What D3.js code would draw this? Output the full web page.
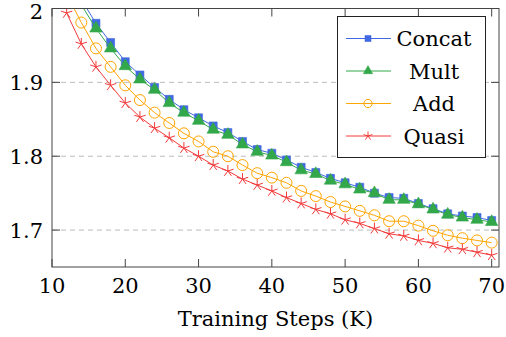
<!DOCTYPE html>
<html>
<head>
<meta charset="utf-8">
<script src="https://cdn.jsdelivr.net/npm/d3@7"></script>
<style>
  body { margin: 0; background: #fff; }
</style>
</head>
<body>
<svg id="chart" width="506" height="337"></svg>
<script>
// training steps (K)
const steps = [12, 14, 16, 18, 20, 22, 24, 26, 28, 30, 32, 34, 36, 38, 40, 42, 44, 46, 48, 50,
               52, 54, 56, 58, 60, 62, 64, 66, 68, 70];
const concat = [2.06, 2.012, 1.980, 1.954, 1.928, 1.910, 1.893, 1.877, 1.863, 1.852, 1.841, 1.832, 1.820, 1.809, 1.804,
                1.795, 1.785, 1.778, 1.770, 1.764, 1.758, 1.750, 1.744, 1.743, 1.736, 1.729, 1.722, 1.719, 1.717, 1.713];
const mult = [2.055, 2.005, 1.973, 1.946, 1.922, 1.904, 1.890, 1.872, 1.859, 1.848, 1.836, 1.829, 1.816, 1.806, 1.801,
              1.792, 1.781, 1.776, 1.767, 1.762, 1.755, 1.750, 1.741, 1.741, 1.735, 1.728, 1.721, 1.717, 1.714, 1.711];
const add = [2.02, 1.981, 1.946, 1.921, 1.896, 1.876, 1.859, 1.845, 1.831, 1.820, 1.806, 1.800, 1.788, 1.777, 1.771,
             1.764, 1.753, 1.746, 1.738, 1.732, 1.726, 1.720, 1.712, 1.712, 1.706, 1.699, 1.693, 1.689, 1.686, 1.683];
const quasi = [1.994, 1.952, 1.921, 1.896, 1.872, 1.853, 1.838, 1.825, 1.811, 1.800, 1.788, 1.780, 1.769, 1.761, 1.753,
               1.744, 1.736, 1.728, 1.722, 1.714, 1.709, 1.702, 1.695, 1.692, 1.686, 1.682, 1.676, 1.674, 1.670, 1.666];
const names = ['Concat', 'Mult', 'Add', 'Quasi'];
const xTicks = [10, 20, 30, 40, 50, 60, 70];
const yTicks = [1.7, 1.8, 1.9, 2];

const series = [
    {name: names[0], values: concat, color: '#4169e1', marker: 'square'},
    {name: names[1], values: mult, color: '#33a84a', marker: 'triangle'},
    {name: names[2], values: add, color: '#ffa500', marker: 'circle'},
    {name: names[3], values: quasi, color: '#f23a3a', marker: 'star'}
];

const FONT = '"DejaVu Serif", serif';

let svg = d3.select('#chart')
    .attr('font-family', FONT);
let margin = {left: 52, top: 8.5, right: 7, bottom: 70};
let W = 506, H = 337;

let x = d3.scaleLinear().domain([10, 71]).range([margin.left, W - margin.right]);
let y = d3.scaleLinear().domain([1.65, 2]).range([H - margin.bottom, margin.top]);

// 网格线
svg.append('g')
    .selectAll('line')
    .data(yTicks.filter(d => d < 2))
    .enter()
    .append('line')
    .attr('x1', x.range()[0]).attr('x2', x.range()[1])
    .attr('y1', d => y(d)).attr('y2', d => y(d))
    .attr('stroke', '#bbb')
    .attr('stroke-width', 1)
    .attr('stroke-dasharray', '5,4');

// clip
svg.append('clipPath').attr('id', 'clip')
    .append('rect')
    .attr('x', x.range()[0]).attr('y', y.range()[1])
    .attr('width', x.range()[1] - x.range()[0])
    .attr('height', y.range()[0] - y.range()[1]);

function markerPath(type, s) {
    if (type === 'square') return d3.symbol(d3.symbolSquare, s * s)();
    if (type === 'triangle') return d3.symbol(d3.symbolTriangle, s * s * 0.55)();
    if (type === 'circle') return d3.symbol(d3.symbolCircle, Math.PI * s * s / 4)();
    // star: 5 spokes
    let r = s / 2, p = '';
    for (let k = 0; k < 5; k++) {
        let a = -Math.PI / 2 + k * 2 * Math.PI / 5;
        p += 'M0,0L' + (r * Math.cos(a)).toFixed(2) + ',' + (r * Math.sin(a)).toFixed(2);
    }
    return p;
}

function styleMarker(sel, s) {
    sel.attr('fill', s.marker === 'circle' ? 'none' : (s.marker === 'star' ? 'none' : s.color))
        .attr('stroke', s.color)
        .attr('stroke-width', s.marker === 'circle' || s.marker === 'star' ? 1 : 0.6);
}

let line = d3.line().x(d => x(d[0])).y(d => y(d[1]));
let sizes = {square: 8, triangle: 11, circle: 11, star: 12};

let gPlot = svg.append('g').attr('clip-path', 'url(#clip)');
series.forEach(function (s) {
    let pts = steps.map((t, i) => [t, s.values[i]]);
    gPlot.append('path')
        .attr('d', line(pts))
        .attr('fill', 'none')
        .attr('stroke', s.color)
        .attr('stroke-width', 1);
    gPlot.selectAll(null)
        .data(pts)
        .enter()
        .append('path')
        .attr('d', markerPath(s.marker, sizes[s.marker]))
        .attr('transform', d => 'translate(' + x(d[0]) + ',' + y(d[1]) + ')')
        .call(styleMarker, s);
});

// 坐标轴框和刻度
let x0 = x.range()[0], x1 = x.range()[1], y0 = y.range()[0], y1 = y.range()[1];
let gAxis = svg.append('g').attr('stroke', '#444').attr('stroke-width', 1);
xTicks.forEach(function (t) {
    gAxis.append('line').attr('x1', x(t)).attr('x2', x(t)).attr('y1', y0).attr('y2', y0 - 8);
    gAxis.append('line').attr('x1', x(t)).attr('x2', x(t)).attr('y1', y1).attr('y2', y1 + 8);
});
yTicks.forEach(function (t) {
    gAxis.append('line').attr('x1', x0).attr('x2', x0 + 8).attr('y1', y(t)).attr('y2', y(t));
    gAxis.append('line').attr('x1', x1).attr('x2', x1 - 8).attr('y1', y(t)).attr('y2', y(t));
});
gAxis.append('rect')
    .attr('x', x0).attr('y', y1)
    .attr('width', x1 - x0).attr('height', y0 - y1)
    .attr('fill', 'none');

// 刻度文字
svg.append('g').selectAll('text')
    .data(xTicks)
    .enter()
    .append('text')
    .attr('x', d => x(d))
    .attr('y', 293)
    .attr('text-anchor', 'middle')
    .attr('font-size', 21)
    .text(d => d);
svg.append('g').selectAll('text')
    .data(yTicks)
    .enter()
    .append('text')
    .attr('x', 43)
    .attr('y', d => Math.max(y(d) + 8, 19))
    .attr('text-anchor', 'end')
    .attr('font-size', 21)
    .text(d => d === 2 ? '2' : d.toFixed(1));

svg.append('text')
    .attr('x', (x0 + x1) / 2)
    .attr('y', 326)
    .attr('text-anchor', 'middle')
    .attr('font-size', 21)
    .text('Training Steps (K)');

// 图例
let lg = svg.append('g');
lg.append('rect')
    .attr('x', 337.5).attr('y', 16.5)
    .attr('width', 148).attr('height', 141)
    .attr('fill', '#fff')
    .attr('stroke', '#222')
    .attr('stroke-width', 1);
let legendY = [38.5, 71, 103.5, 136];
series.forEach(function (s, i) {
    let ly = legendY[i];
    lg.append('line')
        .attr('x1', 346).attr('x2', 391)
        .attr('y1', ly).attr('y2', ly)
        .attr('stroke', s.color).attr('stroke-width', 1);
    lg.append('path')
        .attr('d', markerPath(s.marker, sizes[s.marker] * 0.75))
        .attr('transform', 'translate(368,' + ly + ')')
        .call(styleMarker, s);
    lg.append('text')
        .attr('x', 434)
        .attr('y', ly + 7.5)
        .attr('text-anchor', 'middle')
        .attr('font-size', 21)
        .text(s.name);
});
</script>
</body>
</html>
